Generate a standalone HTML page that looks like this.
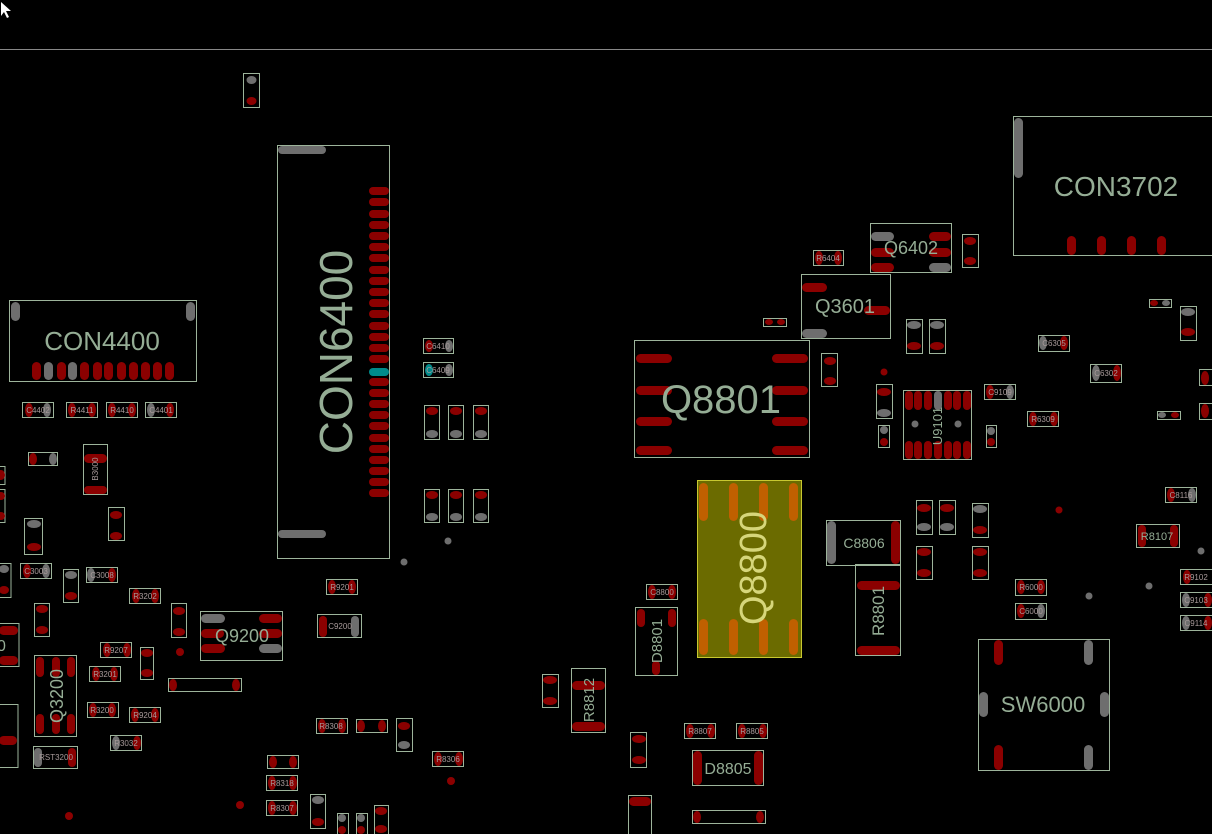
<!DOCTYPE html>
<html><head><meta charset="utf-8"><style>
html,body{margin:0;padding:0;background:#000;}
svg{display:block}
.o{fill:none;stroke:#9db49b;stroke-width:1}
.r{fill:#8b0000}
.g{fill:#6e6e6e}
.y{fill:#c06000}
text{font-family:"Liberation Sans",sans-serif;fill:#95ad95}
.s{font-size:8px;fill:#a89a9a}
</style></head><body>
<svg width="1212" height="834" viewBox="0 0 1212 834" xmlns="http://www.w3.org/2000/svg">
<rect width="1212" height="834" fill="#000"/>
<line x1="0" y1="49.5" x2="1212" y2="49.5" stroke="#888" stroke-width="1"/>
<path d="M1 2 L1 16 L4 12 L7 18 L9 17 L6 11 L11 11 Z" fill="#fff"/>

<rect class="o" x="243.5" y="73.5" width="16" height="34"/>
<ellipse class="g" cx="251.5" cy="80" rx="5" ry="4"/><ellipse class="r" cx="251.5" cy="101" rx="5" ry="4"/>

<rect class="o" x="277.5" y="145.5" width="112" height="413"/>
<rect class="g" x="278" y="146" width="48" height="8" rx="4"/>
<rect class="g" x="278" y="530" width="48" height="8" rx="4"/>
<g class="r">
<rect x="369" y="187" width="20" height="8" rx="4"/><rect x="369" y="198" width="20" height="8" rx="4"/><rect x="369" y="210" width="20" height="8" rx="4"/><rect x="369" y="221" width="20" height="8" rx="4"/><rect x="369" y="232" width="20" height="8" rx="4"/><rect x="369" y="243" width="20" height="8" rx="4"/><rect x="369" y="254" width="20" height="8" rx="4"/><rect x="369" y="266" width="20" height="8" rx="4"/><rect x="369" y="277" width="20" height="8" rx="4"/><rect x="369" y="288" width="20" height="8" rx="4"/><rect x="369" y="299" width="20" height="8" rx="4"/><rect x="369" y="310" width="20" height="8" rx="4"/><rect x="369" y="322" width="20" height="8" rx="4"/><rect x="369" y="333" width="20" height="8" rx="4"/><rect x="369" y="344" width="20" height="8" rx="4"/><rect x="369" y="355" width="20" height="8" rx="4"/><rect x="369" y="378" width="20" height="8" rx="4"/><rect x="369" y="389" width="20" height="8" rx="4"/><rect x="369" y="400" width="20" height="8" rx="4"/><rect x="369" y="411" width="20" height="8" rx="4"/><rect x="369" y="422" width="20" height="8" rx="4"/><rect x="369" y="434" width="20" height="8" rx="4"/><rect x="369" y="445" width="20" height="8" rx="4"/><rect x="369" y="456" width="20" height="8" rx="4"/><rect x="369" y="467" width="20" height="8" rx="4"/><rect x="369" y="478" width="20" height="8" rx="4"/><rect x="369" y="489" width="20" height="8" rx="4"/>
</g>
<rect x="369" y="368" width="20" height="8" rx="4" fill="#008b8b"/>
<text x="0" y="0" font-size="46" transform="translate(352,352) rotate(-90)" text-anchor="middle">CON6400</text>

<rect class="o" x="9.5" y="300.5" width="187" height="81"/>
<rect class="g" x="11" y="302" width="9" height="19" rx="4.5"/><rect class="g" x="186" y="302" width="9" height="19" rx="4.5"/>
<g class="r"><rect x="32" y="362" width="9" height="18" rx="4.5"/><rect x="57" y="362" width="9" height="18" rx="4.5"/><rect x="80" y="362" width="9" height="18" rx="4.5"/><rect x="93" y="362" width="9" height="18" rx="4.5"/><rect x="104" y="362" width="9" height="18" rx="4.5"/><rect x="117" y="362" width="9" height="18" rx="4.5"/><rect x="129" y="362" width="9" height="18" rx="4.5"/><rect x="141" y="362" width="9" height="18" rx="4.5"/><rect x="153" y="362" width="9" height="18" rx="4.5"/><rect x="165" y="362" width="9" height="18" rx="4.5"/></g>
<g class="g"><rect x="44" y="362" width="9" height="18" rx="4.5"/><rect x="68" y="362" width="9" height="18" rx="4.5"/></g>
<text x="102" y="350" font-size="26" text-anchor="middle">CON4400</text>

<rect class="o" x="22.5" y="402.5" width="31" height="15"/><ellipse class="r" cx="29" cy="410" rx="4" ry="7"/><ellipse class="g" cx="47" cy="410" rx="4" ry="7"/><text class="s" x="38" y="413" text-anchor="middle">C4402</text>
<rect class="o" x="66.5" y="402.5" width="31" height="15"/><ellipse class="r" cx="72" cy="410" rx="4" ry="7"/><ellipse class="r" cx="92" cy="410" rx="4" ry="7"/><text class="s" x="82" y="413" text-anchor="middle">R4411</text>
<rect class="o" x="106.5" y="402.5" width="31" height="15"/><ellipse class="r" cx="112" cy="410" rx="4" ry="7"/><ellipse class="r" cx="132" cy="410" rx="4" ry="7"/><text class="s" x="122" y="413" text-anchor="middle">R4410</text>
<rect class="o" x="145.5" y="402.5" width="31" height="15"/><ellipse class="g" cx="151" cy="410" rx="4" ry="7"/><ellipse class="r" cx="170" cy="410" rx="4" ry="7"/><text class="s" x="161" y="413" text-anchor="middle">C4401</text>

<rect class="o" x="28.5" y="452.5" width="29" height="13"/><ellipse class="r" cx="33" cy="459" rx="4" ry="6"/><ellipse class="g" cx="53" cy="459" rx="4" ry="6"/>
<rect class="o" x="83.5" y="444.5" width="24" height="50"/><rect class="r" x="84" y="454" width="23" height="9" rx="4.5"/><rect class="r" x="84" y="486" width="23" height="8" rx="4"/><text class="s" font-size="9" transform="translate(98,469) rotate(-90)" text-anchor="middle">B3000</text>
<rect class="o" x="108.5" y="507.5" width="16" height="33"/><ellipse class="r" cx="116" cy="515" rx="6" ry="4"/><ellipse class="r" cx="116" cy="536" rx="6" ry="4"/>
<rect class="o" x="24.5" y="518.5" width="18" height="36"/><ellipse class="g" cx="34" cy="524" rx="7" ry="4"/><ellipse class="r" cx="34" cy="547" rx="7" ry="4"/>
<rect class="o" x="-1" y="466.5" width="6" height="18"/><ellipse class="r" cx="1" cy="475" rx="4" ry="5"/>
<rect class="o" x="-1" y="489.5" width="6" height="33"/><ellipse class="r" cx="1" cy="496" rx="4" ry="4"/><ellipse class="r" cx="1" cy="516" rx="4" ry="4"/>

<rect class="o" x="-1" y="563.5" width="12" height="34"/><ellipse class="g" cx="4" cy="569" rx="5" ry="4"/><ellipse class="r" cx="4" cy="590" rx="5" ry="4"/>
<rect class="o" x="20.5" y="563.5" width="31" height="15"/><ellipse class="r" cx="27" cy="571" rx="4" ry="7"/><ellipse class="g" cx="46" cy="571" rx="4" ry="7"/><text class="s" x="36" y="574" text-anchor="middle">C3003</text>
<rect class="o" x="63.5" y="569.5" width="15" height="33"/><ellipse class="g" cx="71" cy="575" rx="6" ry="4"/><ellipse class="r" cx="71" cy="596" rx="6" ry="4"/>
<rect class="o" x="86.5" y="567.5" width="31" height="15"/><ellipse class="g" cx="91" cy="575" rx="4" ry="7"/><ellipse class="r" cx="112" cy="575" rx="4" ry="7"/><text class="s" x="102" y="578" text-anchor="middle">C3008</text>
<rect class="o" x="129.5" y="588.5" width="31" height="15"/><ellipse class="r" cx="136" cy="596" rx="4" ry="7"/><ellipse class="r" cx="155" cy="596" rx="4" ry="7"/><text class="s" x="145" y="599" text-anchor="middle">R3202</text>
<rect class="o" x="171.5" y="603.5" width="15" height="34"/><ellipse class="r" cx="179" cy="611" rx="6" ry="4"/><ellipse class="r" cx="179" cy="632" rx="6" ry="4"/>
<rect class="o" x="34.5" y="603.5" width="15" height="33"/><ellipse class="r" cx="42" cy="609" rx="6" ry="4"/><ellipse class="r" cx="42" cy="630" rx="6" ry="4"/>
<rect class="o" x="-1" y="623.5" width="20" height="43"/><rect class="r" x="-1" y="626" width="19" height="9" rx="4.5"/><rect class="r" x="-1" y="656" width="19" height="9" rx="4.5"/><text x="-3" y="651" font-size="16">0</text>
<rect class="o" x="100.5" y="642.5" width="31" height="15"/><ellipse class="r" cx="107" cy="650" rx="4" ry="7"/><ellipse class="r" cx="127" cy="650" rx="4" ry="7"/><text class="s" x="116" y="653" text-anchor="middle">R9207</text>
<rect class="o" x="140.5" y="647.5" width="13" height="32"/><ellipse class="r" cx="147" cy="653" rx="6" ry="4"/><ellipse class="r" cx="147" cy="673" rx="6" ry="4"/>
<rect class="o" x="89.5" y="666.5" width="31" height="15"/><ellipse class="r" cx="96" cy="674" rx="4" ry="7"/><ellipse class="r" cx="114" cy="674" rx="4" ry="7"/><text class="s" x="105" y="677" text-anchor="middle">R3201</text>
<rect class="o" x="34.5" y="655.5" width="42" height="81"/><g class="r"><rect x="36" y="657" width="8" height="20" rx="4"/><rect x="52" y="657" width="8" height="20" rx="4"/><rect x="67" y="657" width="8" height="20" rx="4"/><rect x="36" y="714" width="8" height="20" rx="4"/><rect x="52" y="714" width="8" height="20" rx="4"/><rect x="67" y="714" width="8" height="20" rx="4"/></g>
<text font-size="18" transform="translate(63,696) rotate(-90)" text-anchor="middle">Q3200</text>
<rect class="o" x="-1" y="704.5" width="19" height="63"/><rect class="r" x="-1" y="736" width="18" height="9" rx="4.5"/>
<rect class="o" x="87.5" y="702.5" width="31" height="15"/><ellipse class="r" cx="93" cy="710" rx="4" ry="7"/><ellipse class="r" cx="112" cy="710" rx="4" ry="7"/><text class="s" x="102" y="713" text-anchor="middle">R3200</text>
<rect class="o" x="129.5" y="707.5" width="31" height="15"/><ellipse class="r" cx="135" cy="715" rx="4" ry="7"/><ellipse class="r" cx="155" cy="715" rx="4" ry="7"/><text class="s" x="145" y="718" text-anchor="middle">R9204</text>
<rect class="o" x="110.5" y="735.5" width="31" height="15"/><ellipse class="g" cx="116" cy="743" rx="4" ry="7"/><ellipse class="r" cx="137" cy="743" rx="4" ry="7"/><text class="s" x="126" y="746" text-anchor="middle">R3032</text>
<rect class="o" x="33.5" y="746.5" width="44" height="22"/><rect class="g" x="34" y="748" width="8" height="19" rx="4"/><rect class="r" x="68" y="748" width="8" height="19" rx="4"/><text class="s" x="56" y="760" text-anchor="middle">RST3200</text>
<circle class="r" cx="69" cy="816" r="4"/><circle class="r" cx="240" cy="805" r="4"/><circle class="r" cx="180" cy="652" r="4"/><circle class="r" cx="451" cy="781" r="4"/>

<rect class="o" x="200.5" y="611.5" width="82" height="49"/><rect class="g" x="201" y="614" width="24" height="9" rx="4.5"/><rect class="r" x="259" y="614" width="23" height="9" rx="4.5"/><rect class="r" x="201" y="629" width="23" height="9" rx="4.5"/><rect class="r" x="259" y="629" width="23" height="9" rx="4.5"/><rect class="r" x="201" y="644" width="24" height="9" rx="4.5"/><rect class="g" x="259" y="644" width="23" height="9" rx="4.5"/>
<text x="242" y="642" font-size="18" text-anchor="middle">Q9200</text>
<rect class="o" x="168.5" y="678.5" width="73" height="13"/><ellipse class="r" cx="173" cy="685" rx="4" ry="6"/><ellipse class="r" cx="236" cy="685" rx="4" ry="6"/>
<rect class="o" x="326.5" y="579.5" width="31" height="15"/><ellipse class="r" cx="332" cy="587" rx="4" ry="7"/><ellipse class="r" cx="352" cy="587" rx="4" ry="7"/><text class="s" x="342" y="590" text-anchor="middle">R9201</text>
<rect class="o" x="317.5" y="614.5" width="44" height="23"/><rect class="r" x="319" y="616" width="8" height="21" rx="4"/><rect class="g" x="351" y="616" width="8" height="21" rx="4"/><text class="s" x="340" y="629" text-anchor="middle">C9200</text>
<rect class="o" x="316.5" y="718.5" width="31" height="15"/><ellipse class="r" cx="322" cy="726" rx="4" ry="7"/><ellipse class="r" cx="342" cy="726" rx="4" ry="7"/><text class="s" x="331" y="729" text-anchor="middle">R8308</text>
<rect class="o" x="356.5" y="719.5" width="31" height="13"/><ellipse class="r" cx="361" cy="726" rx="4" ry="6"/><ellipse class="r" cx="382" cy="726" rx="4" ry="6"/>
<rect class="o" x="396.5" y="718.5" width="16" height="33"/><ellipse class="r" cx="404" cy="726" rx="6" ry="4"/><ellipse class="g" cx="404" cy="745" rx="6" ry="4"/>
<rect class="o" x="267.5" y="755.5" width="31" height="13"/><ellipse class="r" cx="273" cy="762" rx="4" ry="6"/><ellipse class="r" cx="293" cy="762" rx="4" ry="6"/>
<rect class="o" x="266.5" y="775.5" width="31" height="15"/><ellipse class="r" cx="272" cy="783" rx="4" ry="7"/><ellipse class="r" cx="293" cy="783" rx="4" ry="7"/><text class="s" x="282" y="786" text-anchor="middle">R8318</text>
<rect class="o" x="266.5" y="800.5" width="31" height="15"/><ellipse class="r" cx="272" cy="808" rx="4" ry="7"/><ellipse class="r" cx="293" cy="808" rx="4" ry="7"/><text class="s" x="282" y="811" text-anchor="middle">R8307</text>
<rect class="o" x="310.5" y="794.5" width="15" height="34"/><ellipse class="g" cx="318" cy="800" rx="6" ry="4"/><ellipse class="r" cx="318" cy="822" rx="6" ry="4"/>
<rect class="o" x="337.5" y="813.5" width="11" height="22"/><ellipse class="g" cx="342" cy="818" rx="4" ry="4"/><ellipse class="r" cx="342" cy="830" rx="4" ry="4"/>
<rect class="o" x="356.5" y="813.5" width="11" height="22"/><ellipse class="g" cx="361" cy="818" rx="4" ry="4"/><ellipse class="r" cx="361" cy="830" rx="4" ry="4"/>
<rect class="o" x="374.5" y="805.5" width="14" height="30"/><ellipse class="r" cx="381" cy="811" rx="6" ry="4"/><ellipse class="r" cx="381" cy="829" rx="6" ry="4"/>
<rect class="o" x="432.5" y="751.5" width="31" height="15"/><ellipse class="r" cx="438" cy="759" rx="4" ry="7"/><ellipse class="r" cx="459" cy="759" rx="4" ry="7"/><text class="s" x="448" y="762" text-anchor="middle">R8306</text>
<circle class="g" cx="404" cy="562" r="3.5"/><circle class="g" cx="448" cy="541" r="3.5"/>

<rect class="o" x="423.5" y="338.5" width="30" height="15"/><ellipse class="r" cx="429" cy="346" rx="4" ry="6"/><ellipse class="g" cx="449" cy="346" rx="4" ry="6"/><text class="s" x="438" y="349" font-size="7" text-anchor="middle">C6410</text>
<rect class="o" x="423.5" y="362.5" width="30" height="15"/><ellipse cx="429" cy="370" rx="4" ry="6" fill="#008b8b"/><ellipse class="g" cx="449" cy="370" rx="4" ry="6"/><text class="s" x="438" y="373" font-size="7" text-anchor="middle">C6409</text>
<rect class="o" x="424.5" y="405.5" width="15" height="34"/><ellipse class="r" cx="432" cy="411" rx="6" ry="4"/><ellipse class="g" cx="432" cy="434" rx="6" ry="4"/>
<rect class="o" x="448.5" y="405.5" width="15" height="34"/><ellipse class="r" cx="456" cy="411" rx="6" ry="4"/><ellipse class="g" cx="456" cy="434" rx="6" ry="4"/>
<rect class="o" x="473.5" y="405.5" width="15" height="34"/><ellipse class="r" cx="481" cy="411" rx="6" ry="4"/><ellipse class="g" cx="481" cy="434" rx="6" ry="4"/>
<rect class="o" x="424.5" y="489.5" width="15" height="33"/><ellipse class="r" cx="432" cy="495" rx="6" ry="4"/><ellipse class="g" cx="432" cy="517" rx="6" ry="4"/>
<rect class="o" x="448.5" y="489.5" width="15" height="33"/><ellipse class="r" cx="456" cy="495" rx="6" ry="4"/><ellipse class="g" cx="456" cy="517" rx="6" ry="4"/>
<rect class="o" x="473.5" y="489.5" width="15" height="33"/><ellipse class="r" cx="481" cy="495" rx="6" ry="4"/><ellipse class="g" cx="481" cy="517" rx="6" ry="4"/>

<rect class="o" x="634.5" y="340.5" width="175" height="117"/>
<g class="r"><rect x="636" y="354" width="36" height="9" rx="4.5"/><rect x="636" y="386" width="36" height="9" rx="4.5"/><rect x="636" y="417" width="36" height="9" rx="4.5"/><rect x="636" y="446" width="36" height="9" rx="4.5"/><rect x="772" y="354" width="36" height="9" rx="4.5"/><rect x="772" y="386" width="36" height="9" rx="4.5"/><rect x="772" y="417" width="36" height="9" rx="4.5"/><rect x="772" y="446" width="36" height="9" rx="4.5"/></g>
<text x="721" y="413" font-size="40" text-anchor="middle">Q8801</text>

<rect x="697.5" y="480.5" width="104" height="177" fill="#6b6b00" stroke="#c8c830"/>
<g class="y"><rect x="699" y="483" width="9" height="38" rx="4.5"/><rect x="729" y="483" width="9" height="38" rx="4.5"/><rect x="759" y="483" width="9" height="38" rx="4.5"/><rect x="789" y="483" width="9" height="38" rx="4.5"/><rect x="699" y="619" width="9" height="36" rx="4.5"/><rect x="729" y="619" width="9" height="36" rx="4.5"/><rect x="759" y="619" width="9" height="36" rx="4.5"/><rect x="789" y="619" width="9" height="36" rx="4.5"/></g>
<text font-size="38" transform="translate(766,568) rotate(-90)" text-anchor="middle" style="fill:#d6d67a">Q8800</text>

<rect class="o" x="801.5" y="274.5" width="89" height="64"/><rect class="r" x="802" y="283" width="25" height="9" rx="4.5"/><rect class="r" x="864" y="306" width="26" height="9" rx="4.5"/><rect class="g" x="802" y="329" width="25" height="9" rx="4.5"/>
<text x="845" y="313" font-size="20" text-anchor="middle">Q3601</text>
<rect class="o" x="870.5" y="223.5" width="81" height="49"/><rect class="g" x="871" y="232" width="23" height="9" rx="4.5"/><rect class="r" x="929" y="232" width="22" height="9" rx="4.5"/><rect class="r" x="871" y="248" width="23" height="9" rx="4.5"/><rect class="r" x="929" y="248" width="22" height="9" rx="4.5"/><rect class="r" x="871" y="263" width="23" height="9" rx="4.5"/><rect class="g" x="929" y="263" width="22" height="9" rx="4.5"/>
<text x="911" y="254" font-size="18" text-anchor="middle">Q6402</text>
<rect class="o" x="962.5" y="234.5" width="16" height="33"/><ellipse class="r" cx="970" cy="241" rx="6" ry="4"/><ellipse class="r" cx="970" cy="261" rx="6" ry="4"/>
<rect class="o" x="813.5" y="250.5" width="30" height="15"/><ellipse class="r" cx="819" cy="258" rx="4" ry="7"/><ellipse class="r" cx="838" cy="258" rx="4" ry="7"/><text class="s" x="828" y="261" font-size="7" text-anchor="middle">R6404</text>
<rect class="o" x="763.5" y="318.5" width="23" height="8"/><ellipse class="r" cx="769" cy="322" rx="4" ry="3"/><ellipse class="r" cx="781" cy="322" rx="4" ry="3"/>
<rect class="o" x="821.5" y="353.5" width="16" height="33"/><ellipse class="r" cx="830" cy="361" rx="6" ry="4"/><ellipse class="r" cx="830" cy="381" rx="6" ry="4"/>
<circle class="r" cx="884" cy="372" r="3.5"/>

<rect class="o" x="1013.5" y="116.5" width="200" height="139"/><rect class="g" x="1014" y="118" width="9" height="60" rx="4.5"/>
<g class="r"><rect x="1067" y="236" width="9" height="19" rx="4.5"/><rect x="1097" y="236" width="9" height="19" rx="4.5"/><rect x="1127" y="236" width="9" height="19" rx="4.5"/><rect x="1157" y="236" width="9" height="19" rx="4.5"/></g>
<text x="1116" y="196" font-size="28" text-anchor="middle">CON3702</text>

<rect class="o" x="906.5" y="319.5" width="16" height="34"/><ellipse class="g" cx="914" cy="325" rx="7" ry="4"/><ellipse class="r" cx="914" cy="346" rx="7" ry="4"/>
<rect class="o" x="929.5" y="319.5" width="16" height="34"/><ellipse class="g" cx="937" cy="325" rx="7" ry="4"/><ellipse class="r" cx="937" cy="346" rx="7" ry="4"/>
<rect class="o" x="876.5" y="384.5" width="16" height="34"/><ellipse class="r" cx="884" cy="392" rx="7" ry="4"/><ellipse class="g" cx="884" cy="413" rx="7" ry="4"/>
<rect class="o" x="878.5" y="425.5" width="11" height="22"/><ellipse class="g" cx="884" cy="430" rx="4" ry="4"/><ellipse class="r" cx="884" cy="442" rx="4" ry="4"/>
<rect class="o" x="903.5" y="390.5" width="68" height="69"/>
<g class="r"><rect x="905" y="391" width="8" height="19" rx="4"/><rect x="914" y="391" width="8" height="19" rx="4"/><rect x="924" y="391" width="8" height="19" rx="4"/><rect x="944" y="391" width="8" height="19" rx="4"/><rect x="953" y="391" width="8" height="19" rx="4"/><rect x="963" y="391" width="8" height="19" rx="4"/><rect x="905" y="441" width="8" height="18" rx="4"/><rect x="914" y="441" width="8" height="18" rx="4"/><rect x="924" y="441" width="8" height="18" rx="4"/><rect x="934" y="441" width="8" height="18" rx="4"/><rect x="944" y="441" width="8" height="18" rx="4"/><rect x="953" y="441" width="8" height="18" rx="4"/><rect x="963" y="441" width="8" height="18" rx="4"/></g>
<rect class="g" x="934" y="391" width="8" height="19" rx="4"/><circle class="g" cx="915" cy="424" r="3.5"/><circle class="g" cx="958" cy="424" r="3.5"/>
<text font-size="13" transform="translate(942,426) rotate(-90)" text-anchor="middle">U9101</text>
<rect class="o" x="984.5" y="384.5" width="31" height="15"/><ellipse class="r" cx="990" cy="392" rx="4" ry="7"/><ellipse class="g" cx="1010" cy="392" rx="4" ry="7"/><text class="s" x="1000" y="395" text-anchor="middle">C9109</text>
<rect class="o" x="986.5" y="425.5" width="10" height="22"/><ellipse class="g" cx="991" cy="431" rx="4" ry="4"/><ellipse class="r" cx="991" cy="442" rx="4" ry="4"/>
<rect class="o" x="1038.5" y="335.5" width="31" height="16"/><ellipse class="g" cx="1043" cy="343" rx="4" ry="7"/><ellipse class="r" cx="1064" cy="343" rx="4" ry="7"/><text class="s" x="1054" y="346" text-anchor="middle">C6305</text>
<rect class="o" x="1090.5" y="364.5" width="31" height="18"/><ellipse class="g" cx="1096" cy="373" rx="4" ry="8"/><ellipse class="r" cx="1117" cy="373" rx="4" ry="8"/><text class="s" x="1106" y="376" text-anchor="middle">C6302</text>
<rect class="o" x="1027.5" y="411.5" width="31" height="15"/><ellipse class="r" cx="1033" cy="419" rx="4" ry="7"/><ellipse class="r" cx="1054" cy="419" rx="4" ry="7"/><text class="s" x="1043" y="422" text-anchor="middle">R6309</text>
<rect class="o" x="1149.5" y="299.5" width="22" height="8"/><ellipse class="r" cx="1154" cy="303" rx="4" ry="3"/><ellipse class="g" cx="1166" cy="303" rx="4" ry="3"/>
<rect class="o" x="1180.5" y="306.5" width="16" height="34"/><ellipse class="g" cx="1188" cy="312" rx="7" ry="4"/><ellipse class="r" cx="1188" cy="332" rx="7" ry="4"/>
<rect class="o" x="1157.5" y="411.5" width="23" height="8"/><ellipse class="g" cx="1162" cy="415" rx="4" ry="3"/><ellipse class="r" cx="1175" cy="415" rx="4" ry="3"/>
<rect class="o" x="1199.5" y="369.5" width="14" height="16"/><ellipse class="r" cx="1205" cy="378" rx="4" ry="7"/>
<rect class="o" x="1199.5" y="403.5" width="14" height="16"/><ellipse class="r" cx="1205" cy="411" rx="4" ry="7"/>
<rect class="o" x="1165.5" y="487.5" width="31" height="15"/><ellipse class="r" cx="1171" cy="495" rx="4" ry="7"/><ellipse class="g" cx="1192" cy="495" rx="4" ry="7"/><text class="s" x="1181" y="498" text-anchor="middle">C8116</text>
<rect class="o" x="1136.5" y="524.5" width="43" height="23"/><rect class="r" x="1138" y="525" width="8" height="22" rx="4"/><rect class="r" x="1170" y="525" width="8" height="22" rx="4"/><text x="1157" y="540" font-size="11" text-anchor="middle">R8107</text>
<circle class="r" cx="1059" cy="510" r="3.5"/><circle class="g" cx="1201" cy="551" r="3.5"/><circle class="g" cx="1149" cy="586" r="3.5"/><circle class="g" cx="1089" cy="596" r="3.5"/>
<rect class="o" x="1180.5" y="569.5" width="33" height="15"/><ellipse class="r" cx="1187" cy="577" rx="4" ry="7"/><text class="s" x="1196" y="580" text-anchor="middle">R9102</text>
<rect class="o" x="1180.5" y="592.5" width="33" height="15"/><ellipse class="g" cx="1186" cy="600" rx="4" ry="7"/><ellipse class="r" cx="1208" cy="600" rx="4" ry="7"/><text class="s" x="1196" y="603" text-anchor="middle">C9103</text>
<rect class="o" x="1180.5" y="615.5" width="33" height="15"/><ellipse class="g" cx="1186" cy="623" rx="4" ry="7"/><ellipse class="r" cx="1208" cy="623" rx="4" ry="7"/><text class="s" x="1196" y="626" text-anchor="middle">C9114</text>

<rect class="o" x="916.5" y="500.5" width="16" height="34"/><ellipse class="r" cx="924" cy="508" rx="7" ry="4"/><ellipse class="g" cx="924" cy="527" rx="7" ry="4"/>
<rect class="o" x="939.5" y="500.5" width="16" height="34"/><ellipse class="r" cx="947" cy="508" rx="7" ry="4"/><ellipse class="g" cx="947" cy="527" rx="7" ry="4"/>
<rect class="o" x="972.5" y="503.5" width="16" height="34"/><ellipse class="g" cx="980" cy="509" rx="7" ry="4"/><ellipse class="r" cx="980" cy="530" rx="7" ry="4"/>
<rect class="o" x="916.5" y="546.5" width="16" height="33"/><ellipse class="r" cx="924" cy="552" rx="7" ry="4"/><ellipse class="r" cx="924" cy="573" rx="7" ry="4"/>
<rect class="o" x="972.5" y="546.5" width="16" height="33"/><ellipse class="r" cx="980" cy="552" rx="7" ry="4"/><ellipse class="r" cx="980" cy="573" rx="7" ry="4"/>
<rect class="o" x="1015.5" y="579.5" width="31" height="16"/><ellipse class="r" cx="1021" cy="587" rx="4" ry="7"/><ellipse class="r" cx="1041" cy="587" rx="4" ry="7"/><text class="s" x="1031" y="590" text-anchor="middle">R6000</text>
<rect class="o" x="1015.5" y="603.5" width="31" height="16"/><ellipse class="r" cx="1021" cy="611" rx="4" ry="7"/><ellipse class="g" cx="1041" cy="611" rx="4" ry="7"/><text class="s" x="1031" y="614" text-anchor="middle">C6000</text>

<rect class="o" x="826.5" y="520.5" width="74" height="45"/><rect class="g" x="827" y="521" width="9" height="43" rx="4.5"/><rect class="r" x="891" y="521" width="9" height="43" rx="4.5"/>
<text x="864" y="548" font-size="14" text-anchor="middle">C8806</text>
<rect class="o" x="855.5" y="564.5" width="45" height="91"/><rect class="r" x="857" y="581" width="43" height="9" rx="4.5"/><rect class="r" x="857" y="646" width="43" height="9" rx="4.5"/>
<text font-size="17" transform="translate(884,611) rotate(-90)" text-anchor="middle">R8801</text>

<rect class="o" x="978.5" y="639.5" width="131" height="131"/>
<rect class="r" x="994" y="640" width="9" height="25" rx="4.5"/><rect class="g" x="1084" y="640" width="9" height="25" rx="4.5"/><rect class="g" x="979" y="692" width="9" height="25" rx="4.5"/><rect class="g" x="1100" y="692" width="9" height="25" rx="4.5"/><rect class="r" x="994" y="745" width="9" height="25" rx="4.5"/><rect class="g" x="1084" y="745" width="9" height="25" rx="4.5"/>
<text x="1043" y="712" font-size="22" text-anchor="middle">SW6000</text>

<rect class="o" x="646.5" y="584.5" width="31" height="15"/><ellipse class="r" cx="652" cy="592" rx="4" ry="7"/><ellipse class="r" cx="672" cy="592" rx="4" ry="7"/><text class="s" x="662" y="595" text-anchor="middle">C8800</text>
<rect class="o" x="635.5" y="607.5" width="42" height="68"/><rect class="r" x="637" y="609" width="8" height="18" rx="4"/><rect class="r" x="668" y="609" width="8" height="18" rx="4"/><rect class="r" x="652" y="661" width="8" height="14" rx="4"/>
<text font-size="15" transform="translate(662,641) rotate(-90)" text-anchor="middle">D8801</text>
<rect class="o" x="542.5" y="674.5" width="16" height="33"/><ellipse class="r" cx="550" cy="680" rx="7" ry="4"/><ellipse class="r" cx="550" cy="701" rx="7" ry="4"/>
<rect class="o" x="571.5" y="668.5" width="34" height="64"/><rect class="r" x="572" y="681" width="33" height="9" rx="4.5"/><rect class="r" x="572" y="722" width="33" height="9" rx="4.5"/>
<text font-size="15" transform="translate(594,700) rotate(-90)" text-anchor="middle">R8812</text>
<rect class="o" x="630.5" y="732.5" width="16" height="35"/><ellipse class="r" cx="639" cy="739" rx="7" ry="4"/><ellipse class="r" cx="639" cy="760" rx="7" ry="4"/>
<rect class="o" x="628.5" y="795.5" width="23" height="40"/><rect class="r" x="629" y="797" width="22" height="9" rx="4.5"/>
<rect class="o" x="684.5" y="723.5" width="31" height="15"/><ellipse class="r" cx="690" cy="731" rx="4" ry="7"/><ellipse class="r" cx="711" cy="731" rx="4" ry="7"/><text class="s" x="700" y="734" text-anchor="middle">R8807</text>
<rect class="o" x="736.5" y="723.5" width="31" height="15"/><ellipse class="r" cx="742" cy="731" rx="4" ry="7"/><ellipse class="r" cx="763" cy="731" rx="4" ry="7"/><text class="s" x="752" y="734" text-anchor="middle">R8805</text>
<rect class="o" x="692.5" y="750.5" width="71" height="35"/><rect class="r" x="693" y="751" width="9" height="34" rx="4.5"/><rect class="r" x="754" y="751" width="9" height="34" rx="4.5"/>
<text x="728" y="774" font-size="16" text-anchor="middle">D8805</text>
<rect class="o" x="692.5" y="810.5" width="73" height="13"/><ellipse class="r" cx="697" cy="817" rx="4" ry="6"/><ellipse class="r" cx="760" cy="817" rx="4" ry="6"/>
</svg>
</body></html>
